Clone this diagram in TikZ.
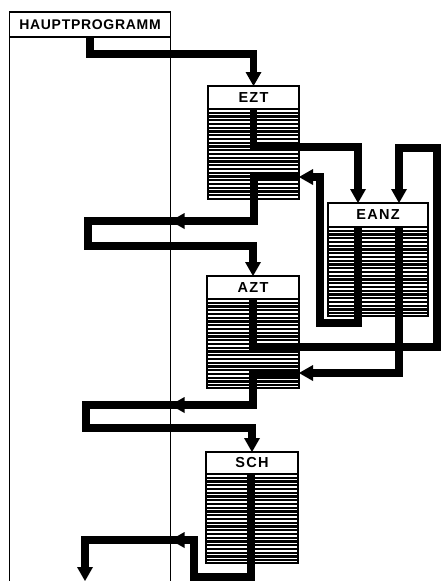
\documentclass[tikz,border=0pt]{standalone}
\usepackage{fontspec}
\setmainfont{Liberation Sans}
\usetikzlibrary{arrows.meta}
\tikzset{
  x=1pt, y=-1pt,
  frame/.style={line width=1.4pt},
  hdr/.style={draw, line width=1.6pt, fill=white, inner sep=0pt, outer sep=0pt,
    anchor=north west, font=\fontsize{14}{14}\selectfont\bfseries\addfontfeature{LetterSpace=5}},
  modhdr/.style={hdr, font=\fontsize{14.5}{14.5}\selectfont\bfseries\addfontfeature{LetterSpace=9}},
  bodybox/.style={draw, line width=1.6pt, inner sep=0pt, outer sep=0pt, anchor=north west},
  hatch/.style={line width=2.2pt},
  flow/.style={line width=7.5pt, line join=miter},
  tip/.style={-{Triangle[width=16pt,length=14pt,line width=0pt]}},
}
\begin{document}
\begin{tikzpicture}
\useasboundingbox (0,0) rectangle (441,581);
\fill[white] (0,0) rectangle (441,581);

% main program
\node[hdr, minimum width=161, minimum height=25] (hp) at (9.5,12) {HAUPTPROGRAMM};
\coordinate (hpbotL) at (9.5,581);
\coordinate (hpbotR) at (170.5,581);
\draw[frame] (hp.south west) -- (hpbotL);
\draw[frame] (hp.south east) -- (hpbotR);

% modules: headers and hatched bodies
\node[modhdr, minimum width=91, minimum height=23] (ezt) at (208,86) {EZT};
\node[bodybox, minimum width=91, minimum height=90] (eztb) at (ezt.south west) {};
\node[modhdr, minimum width=100, minimum height=24] (eanz) at (328,203) {EANZ};
\node[bodybox, minimum width=100, minimum height=89] (eanzb) at (eanz.south west) {};
\node[modhdr, minimum width=92, minimum height=23] (azt) at (207,276) {AZT};
\node[bodybox, minimum width=92, minimum height=89] (aztb) at (azt.south west) {};
\node[modhdr, minimum width=92, minimum height=22] (sch) at (206,452) {SCH};
\node[bodybox, minimum width=92, minimum height=89] (schb) at (sch.south west) {};

\foreach \b in {eztb,eanzb,aztb,schb}{
  \foreach \i in {1,...,23}{
    \draw[hatch] ([yshift=-\i*3.75pt]\b.north west) -- ([yshift=-\i*3.75pt]\b.north east);
  }
}

% turning points
\coordinate (eanzL) at ([xshift=-20pt]eanz.north);
\coordinate (eanzR) at ([xshift=21pt]eanz.north);
\coordinate (a1) at (90,54);
\coordinate (b1) at (eanzL |- 0,147);
\coordinate (c1) at (eanzL |- 0,323);
\coordinate (c2) at (320,177);
\coordinate (d1) at (254,221);
\coordinate (d2) at (88,221);
\coordinate (d3) at (88,246);
\coordinate (e1) at (437,347);
\coordinate (e2) at (437,148);
\coordinate (f1) at (eanzR |- 0,373);
\coordinate (g1) at (253,405);
\coordinate (g2) at (86,405);
\coordinate (g3) at (86,428);
\coordinate (h1) at (251,577);
\coordinate (h2) at (194,577);
\coordinate (h3) at (194,540);
\coordinate (h4) at (85,540);
\coordinate (h5) at (85,581);

% 1: main program -> EZT
\draw[flow,tip] (hp.south west -| a1) -- (a1) -| (ezt.north);
% 2: EZT -> EANZ
\draw[flow,tip] (eztb.north) |- (b1) -- (eanzL);
% 3: EANZ -> EZT
\draw[flow,tip] (eanzb.north -| eanzL) -- (c1) -| (c2) -- (c2 -| eztb.east);
% 4: EZT -> main program -> AZT
\draw[flow,tip] (c2 -| eztb.east) -| (d1) -- (d2) -- (d3) -| (azt.north);
\draw[flow,tip] (d1) -- (d1 -| hpbotR);
% 5: AZT -> EANZ
\draw[flow,tip] (aztb.north) |- (e1) -- (e2) -| (eanzR);
% 6: EANZ -> AZT
\draw[flow,tip] (eanzb.north -| eanzR) -- (f1) -- (f1 -| aztb.east);
% 7: AZT -> main program -> SCH
\draw[flow,tip] (f1 -| aztb.east) -| (g1) -- (g2) -- (g3) -| (sch.north);
\draw[flow,tip] (g1) -- (g1 -| hpbotR);
% 8: SCH -> main program
\draw[flow,tip] (schb.north -| h1) -- (h1) -- (h2) -- (h3) -- (h4) -- (h5);
\draw[flow,tip] (h3) -- (h3 -| hpbotR);
\end{tikzpicture}
\end{document}
